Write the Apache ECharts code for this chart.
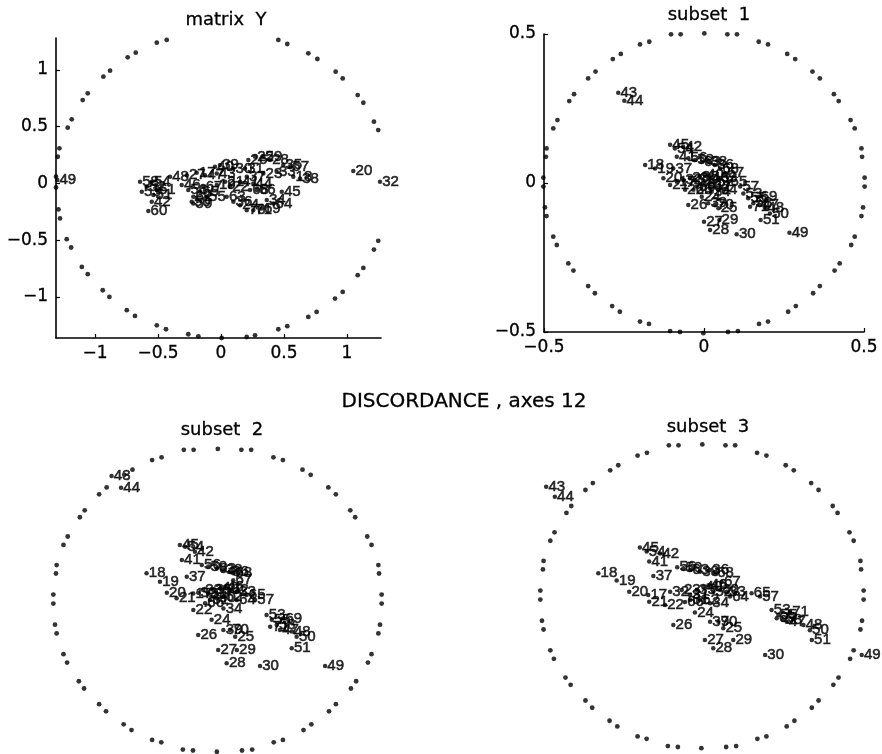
<!DOCTYPE html>
<html>
<head>
<meta charset="utf-8">
<script src="https://cdn.jsdelivr.net/npm/echarts@6/dist/echarts.min.js"></script>
<style>
html, body { margin: 0; padding: 0; background: #fff; }
#main { width: 882px; height: 754px; }
</style>
</head>
<body>
<div id="main"></div>
<script>
var myChart = echarts.init(document.getElementById('main'));

// point numbers, same order in every panel
var idLabels = [17, 18, 19, 20, 21, 22, 23, 24, 25, 26, 27, 28, 29, 30, 31, 32, 33, 34, 35, 36,
    37, 38, 39, 40, 41, 42, 43, 44, 45, 46, 47, 48, 49, 50, 51, 52, 53, 54, 55, 56,
    57, 58, 59, 60, 61, 62, 63, 64, 65, 66, 67, 68, 69, 70, 71];

// matrix Y
var yMatX = [-0.193, 0.574, -0.034, 1.050, 0.032, 0.071, 0.336, 0.151, 0.270, 0.217, -0.272, 0.389, 0.336, 0.098, 0.190, 1.262, 0.442, 0.363, 0.494, 0.098,
    0.204, 0.627, -0.008, -0.048, 0.151, -0.550, -0.034, 0.256, 0.482, -0.312, -0.127, -0.405, -1.300, -0.233, -0.537, -0.590, -0.629, -0.550, -0.113, -0.260,
    0.548, -0.643, -0.220, -0.577, -0.510, -0.220, 0.045, 0.415, -0.167, 0.283, -0.140, 0.230, 0.323, 0.204, 0.256];
var yMatY = [0.094, 0.058, -0.015, 0.109, 0.014, -0.030, 0.088, -0.192, 0.235, 0.206, 0.073, 0.206, 0.235, 0.132, 0.132, 0.014, 0.102, -0.147, 0.162, -0.162,
    0.058, 0.044, 0.162, 0.147, 0.014, -0.162, 0.088, 0.000, -0.074, -0.015, 0.073, 0.058, 0.029, -0.162, -0.103, -0.030, -0.074, 0.014, -0.118, -0.059,
    0.147, 0.014, -0.177, -0.244, -0.059, -0.118, -0.118, -0.177, -0.074, -0.059, -0.030, -0.059, -0.221, -0.236, -0.236];

// subset 1
var s1X = [-0.085, -0.184, -0.153, -0.127, -0.106, -0.059, -0.044, -0.007, 0.045, -0.049, 0.000, 0.019, 0.048, 0.102, -0.028, -0.065, 0.045, 0.024, -0.013, 0.034,
    -0.096, 0.013, 0.013, 0.003, -0.085, -0.065, -0.268, -0.249, -0.106, 0.019, 0.175, 0.191, 0.267, 0.206, 0.177, 0.034, 0.123, -0.091, 0.138, -0.049,
    0.113, 0.154, -0.028, -0.023, 0.003, 0.024, -0.007, 0.045, 0.076, -0.033, 0.066, 0.050, 0.170, 0.034, 0.144];
var s1Y = [0.004, 0.060, 0.049, 0.016, -0.007, -0.023, 0.016, -0.046, -0.085, -0.074, -0.130, -0.158, -0.124, -0.172, 0.010, 0.010, 0.016, -0.029, 0.021, 0.060,
    0.049, 0.071, -0.068, 0.027, 0.088, 0.122, 0.303, 0.276, 0.128, 0.016, -0.074, -0.085, -0.167, -0.102, -0.124, 0.004, -0.035, 0.116, -0.051, 0.083,
    -0.012, -0.068, 0.077, -0.012, -0.007, -0.012, 0.071, -0.023, 0.004, -0.023, 0.033, 0.049, -0.046, -0.074, -0.080];

// subset 2
var s2X = [-0.074, -0.217, -0.176, -0.155, -0.125, -0.074, -0.044, -0.018, 0.054, -0.059, 0.002, 0.028, 0.059, 0.130, -0.028, -0.059, 0.059, 0.018, -0.013, 0.038,
    -0.094, 0.018, 0.018, 0.008, -0.109, -0.069, -0.324, -0.295, -0.115, 0.023, 0.191, 0.227, 0.329, 0.242, 0.227, 0.038, 0.150, -0.099, 0.166, -0.048,
    0.115, 0.181, -0.028, -0.002, -0.023, 0.018, -0.002, 0.059, 0.089, -0.038, 0.048, 0.048, 0.201, 0.038, 0.161];
var s2Y = [0.022, 0.089, 0.061, 0.024, 0.006, -0.033, 0.033, -0.066, -0.122, -0.116, -0.166, -0.210, -0.166, -0.219, 0.022, 0.024, 0.028, -0.028, 0.033, 0.094,
    0.077, 0.100, -0.100, 0.039, 0.133, 0.160, 0.412, 0.373, 0.183, 0.044, -0.100, -0.105, -0.219, -0.122, -0.160, 0.033, -0.050, 0.177, -0.066, 0.116,
    0.000, -0.083, 0.111, 0.006, 0.000, 0.011, 0.105, 0.000, 0.017, -0.011, 0.066, 0.089, -0.061, -0.100, -0.089];

// subset 3
var s3X = [-0.167, -0.322, -0.265, -0.226, -0.164, -0.115, -0.063, -0.022, 0.066, -0.089, 0.009, 0.035, 0.097, 0.196, -0.037, -0.099, 0.077, 0.025, -0.016, 0.025,
    -0.151, -0.006, 0.025, 0.004, -0.164, -0.130, -0.484, -0.457, -0.193, 0.020, 0.263, 0.315, 0.496, 0.335, 0.341, 0.035, 0.216, -0.172, 0.237, -0.077,
    0.180, 0.252, -0.058, 0.056, -0.037, -0.006, -0.037, 0.087, 0.154, -0.053, 0.061, 0.040, 0.232, 0.051, 0.273];
var s3Y = [0.003, 0.075, 0.051, 0.014, -0.019, -0.030, 0.020, -0.055, -0.107, -0.096, -0.146, -0.173, -0.146, -0.195, 0.003, 0.014, 0.014, -0.024, 0.020, 0.086,
    0.066, 0.080, -0.085, 0.031, 0.114, 0.141, 0.362, 0.329, 0.161, 0.036, -0.085, -0.096, -0.195, -0.113, -0.146, 0.014, -0.046, 0.147, -0.063, 0.095,
    -0.002, -0.079, 0.092, 0.020, -0.013, -0.013, 0.086, -0.002, 0.009, -0.020, 0.047, 0.075, -0.074, -0.085, -0.052];

// dotted ring of the subsets (radius 0.5)
var ringX = [-0.103, -0.073, -0.200, -0.171, -0.285, -0.260, -0.362, -0.339, -0.421, -0.406, -0.471, -0.458, -0.494, -0.492, -0.502, -0.502,
    -0.497, -0.492, -0.471, -0.460, -0.424, -0.408, -0.362, -0.341, -0.287, -0.263, -0.200, -0.172, -0.106, -0.075,
    0.001, -0.002,
    0.073, 0.103, 0.171, 0.200, 0.260, 0.285, 0.339, 0.362, 0.406, 0.421, 0.458, 0.471, 0.492, 0.494, 0.502, 0.502,
    0.492, 0.497, 0.460, 0.471, 0.408, 0.424, 0.341, 0.362, 0.263, 0.287, 0.172, 0.200, 0.075, 0.106];
var ringY = [0.499, 0.499, 0.465, 0.474, 0.416, 0.433, 0.351, 0.374, 0.275, 0.298, 0.183, 0.211, 0.088, 0.116, 0.018, -0.012,
    -0.082, -0.111, -0.180, -0.208, -0.270, -0.294, -0.346, -0.370, -0.413, -0.432, -0.465, -0.473, -0.497, -0.500,
    0.502, -0.504,
    0.499, 0.499, 0.474, 0.465, 0.433, 0.416, 0.374, 0.351, 0.298, 0.275, 0.211, 0.183, 0.116, 0.088, 0.018, -0.012,
    -0.111, -0.082, -0.208, -0.180, -0.294, -0.270, -0.370, -0.346, -0.432, -0.413, -0.473, -0.465, -0.500, -0.497];

// dotted ring of matrix Y (only the visible part)
var ringMatX = [-0.510, -0.431, -0.741, -0.677, -0.934, -0.881, -1.098, -1.058, -1.217, -1.185, -1.283, -1.296, -1.310, -1.310,
    -1.290, -1.278, -1.225, -1.190, -1.105, -1.058, -0.939, -0.886, -0.748, -0.683, -0.510, -0.437, -0.260, -0.180, 0.005,
    0.204, 0.270, 0.455, 0.526, 0.693, 0.759, 0.905, 0.966, 1.085, 1.130, 1.214, 1.248,
    1.214, 1.248, 1.085, 1.130, 0.910, 0.966, 0.693, 0.765, 0.455, 0.526];
var ringMatY = [1.241, 1.265, 1.112, 1.153, 0.941, 0.994, 0.735, 0.794, 0.491, 0.565, 0.309, 0.235, 0.059, -0.035,
    -0.229, -0.309, -0.492, -0.565, -0.736, -0.800, -0.942, -1.001, -1.118, -1.168, -1.251, -1.286, -1.330, -1.348, -1.363,
    -1.354, -1.339, -1.286, -1.259, -1.177, -1.133, -1.015, -0.957, -0.809, -0.745, -0.583, -0.506,
    0.544, 0.470, 0.779, 0.711, 0.985, 0.926, 1.147, 1.097, 1.265, 1.229];

// tick values
var matTicks = [-1, -0.5, 0, 0.5, 1];
var subTicks = [-0.5, 0, 0.5];

var FONT = 'DejaVu Sans';
var LABEL_FONT = 'Liberation Sans';

function pairs(xs, ys) {
    return xs.map(function (x, i) { return [x, ys[i]]; });
}

function labelled(xs, ys) {
    return xs.map(function (x, i) { return [x, ys[i], idLabels[i]]; });
}

function makeAxis(idx, min, max, ticks, shown, isX) {
    return {
        type: 'value',
        gridIndex: idx,
        min: min,
        max: max,
        show: shown,
        axisLine: { show: true, onZero: false, lineStyle: { color: '#000', width: 1.6 } },
        axisTick: { show: true, inside: true, length: 4, customValues: ticks, lineStyle: { color: '#000', width: 1.2 } },
        splitLine: { show: false },
        axisLabel: {
            show: true,
            customValues: ticks,
            margin: isX ? 7 : 8,
            color: '#000',
            fontSize: 17,
            fontFamily: FONT,
            textBorderColor: '#000',
            textBorderWidth: 0.3,
            formatter: function (v) { return String(v).replace('-', '\u2212'); }
        }
    };
}

function ringSeries(idx, data) {
    return {
        type: 'scatter',
        xAxisIndex: idx,
        yAxisIndex: idx,
        data: data,
        symbol: 'circle',
        symbolSize: 4.8,
        clip: false,
        silent: true,
        itemStyle: { color: '#000' }
    };
}

function pointSeries(idx, data) {
    return {
        type: 'scatter',
        xAxisIndex: idx,
        yAxisIndex: idx,
        data: data,
        symbol: 'circle',
        symbolSize: 4.5,
        clip: false,
        silent: true,
        itemStyle: { color: '#000' },
        label: {
            show: true,
            position: 'right',
            distance: 0,
            color: '#000',
            fontSize: 15,
            fontFamily: LABEL_FONT,
            textBorderColor: '#000',
            textBorderWidth: 0.6,
            formatter: function (p) { return p.value[2]; }
        }
    };
}

var titleStyle = { color: '#000', fontSize: 18, fontWeight: 'normal', fontFamily: FONT,
    textBorderColor: '#000', textBorderWidth: 0.3 };

var option = {
    backgroundColor: '#fff',
    animation: false,
    title: [
        { text: 'matrix  Y', left: 221, top: 6, textAlign: 'center', textStyle: titleStyle },
        { text: 'subset  1', left: 704, top: 1, textAlign: 'center', textStyle: titleStyle },
        { text: 'DISCORDANCE , axes 12', left: 459, top: 387, textAlign: 'center',
          textStyle: { color: '#000', fontSize: 20, fontWeight: 'normal', fontFamily: FONT,
              textBorderColor: '#000', textBorderWidth: 0.3 } },
        { text: 'subset  2', left: 217, top: 416, textAlign: 'center', textStyle: titleStyle },
        { text: 'subset  3', left: 703, top: 413, textAlign: 'center', textStyle: titleStyle }
    ],
    grid: [
        { left: 56, top: 38, width: 325, height: 300 },
        { left: 544, top: 34, width: 320, height: 298 },
        { left: 54, top: 449.5, width: 327, height: 301 },
        { left: 541, top: 445, width: 322, height: 302 }
    ],
    xAxis: [
        makeAxis(0, -1.31, 1.27, matTicks, true, true),
        makeAxis(1, -0.5, 0.5, subTicks, true, true),
        makeAxis(2, -0.5, 0.5, subTicks, false, true),
        makeAxis(3, -0.5, 0.5, subTicks, false, true)
    ],
    yAxis: [
        makeAxis(0, -1.363, 1.282, matTicks, true, false),
        makeAxis(1, -0.5, 0.5, subTicks, true, false),
        makeAxis(2, -0.5, 0.5, subTicks, false, false),
        makeAxis(3, -0.5, 0.5, subTicks, false, false)
    ],
    series: [
        ringSeries(0, pairs(ringMatX, ringMatY)),
        pointSeries(0, labelled(yMatX, yMatY)),
        ringSeries(1, pairs(ringX, ringY)),
        pointSeries(1, labelled(s1X, s1Y)),
        ringSeries(2, pairs(ringX, ringY)),
        pointSeries(2, labelled(s2X, s2Y)),
        ringSeries(3, pairs(ringX, ringY)),
        pointSeries(3, labelled(s3X, s3Y))
    ]
};

option && myChart.setOption(option);
</script>
</body>
</html>
